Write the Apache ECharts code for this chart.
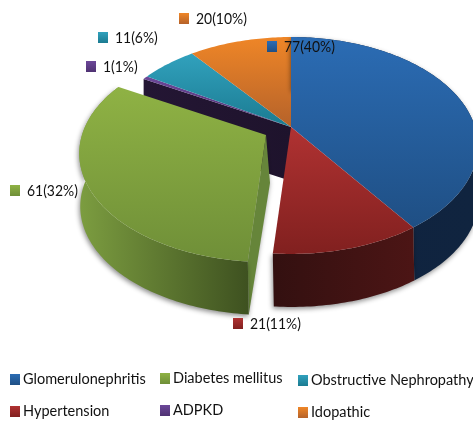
<!DOCTYPE html>
<html>
<head>
<meta charset="utf-8">
<title>Causes of kidney disease</title>
<script src="https://cdn.jsdelivr.net/npm/echarts@6/dist/echarts.min.js"></script>
<style>
  html, body { margin: 0; background: #fff; }
  #chart { width: 473px; height: 421px; }
</style>
</head>
<body>
<div id="chart"></div>
<script>
// clockwise from north, same order as the picture
const names = ["Glomerulonephritis", "Hypertension", "Diabetes mellitus", "ADPKD", "Obstructive Nephropathy", "Idopathic"]
const counts = [77, 21, 61, 1, 11, 20]
const topColors = [
  ["#2b6cb4", "#1f4f84"],
  ["#b03232", "#81201f"],
  ["#8fb244", "#6f8f38"],
  ["#6c4799", "#4f3272"],
  ["#31a1bd", "#1b7b91"],
  ["#ef8627", "#b5622a"],
]
const wallColors = [
  ["#0f2340", "#10243f"],
  ["#331010", "#4c1515"],
  ["#7c9d40", "#3e5120"],
  ["#241634", "#1e132c"],
  ["#0f4a5a", "#0f4a5a"],
  ["#7a4214", "#7a4214"],
]
const labelSpots = [[267, 41], [233, 318], [10, 185], [86, 61], [98, 32], [179, 13]]
const legendSpots = [[10, 372], [10, 404], [160, 371], [160, 403], [298, 373], [298, 405]]

// perspective of the pie, fitted to the picture
const hub = [291, 127]
const spreadX = 184
const spreadY = 105.3
const tilt = 0.1705
const depth = 53
const explodedIndex = 2
const explode = [-25, 8]

const total = counts.reduce((a, b) => a + b, 0)

const project = (deg, offset) => {
  const t = (deg * Math.PI) / 180
  const u = Math.sin(t)
  const v = -Math.cos(t)
  const d = 1 - tilt * v
  return [hub[0] + offset[0] + (spreadX * u) / d, hub[1] + offset[1] + (spreadY * v) / d]
}

let running = 0
const slices = counts.map((c, i) => {
  const start = running
  running += (c / total) * 360
  return { start, end: running, offset: i === explodedIndex ? explode : [0, 0] }
})

const rim = (s) => {
  const pts = []
  for (let a = s.start; a < s.end; a += 1) pts.push(project(a, s.offset))
  pts.push(project(s.end, s.offset))
  return pts
}

const down = (p) => [p[0] + 1, p[1] + depth]
const vertical = (c) => ({
  type: "linear", x: 0, y: 0, x2: 0, y2: 1,
  colorStops: [{ offset: 0, color: c[0] }, { offset: 1, color: c[1] }],
})
const horizontal = (c) => ({
  type: "linear", x: 0, y: 0, x2: 1, y2: 0,
  colorStops: [{ offset: 0, color: c[0] }, { offset: 1, color: c[1] }],
})
const wallShadow = { shadowBlur: 5, shadowColor: "rgba(0,0,0,0.45)", shadowOffsetX: -1, shadowOffsetY: 2 }

const renderSlice = (i) => () => {
  const s = slices[i]
  const edge = rim(s)
  const h = [hub[0] + s.offset[0], hub[1] + s.offset[1]]
  const children = []

  // cut face of the pulled out slice, only the side towards the viewer shows
  if (i === explodedIndex) {
    const near = edge[0]
    children.push({
      type: "polygon",
      shape: { points: [h, near, down(near), [h[0] + 4, h[1] + depth - 5]] },
      style: { fill: "#66853a", ...wallShadow },
    })
  }
  // outer wall, the top face hides whatever sits behind it
  if (s.end > 90 && s.start < 270) {
    children.push({
      type: "polygon",
      shape: { points: edge.concat(edge.map(down).reverse()) },
      style: { fill: horizontal(wallColors[i]), ...wallShadow },
    })
  }
  // dark wall left bare behind the gap
  if (names[i] === "ADPKD") {
    const from = edge[0]
    children.push({
      type: "polygon",
      shape: { points: [from, hub, [hub[0], hub[1] + depth + 1], [from[0], from[1] + depth + 1]] },
      style: { fill: horizontal(wallColors[i]) },
    })
  }
  children.push({
    type: "polygon",
    shape: { points: [h].concat(edge) },
    style: { fill: vertical(topColors[i]) },
  })
  return { type: "group", children }
}

const drawOrder = [3, 4, 5, 0, 1, 2]
const series = names.map((name, i) => ({
  type: "custom",
  name,
  coordinateSystem: "none",
  silent: true,
  z: 2 + drawOrder.indexOf(i),
  itemStyle: { color: vertical(topColors[i]) },
  data: [[counts[i]]],
  renderItem: renderSlice(i),
}))

const labels = counts.flatMap((c, i) => {
  const [x, y] = labelSpots[i]
  return [
    { type: "rect", z: 50, shape: { x, y, width: 10, height: 11 }, style: { fill: vertical(topColors[i]) } },
    {
      type: "text", z: 50, x: x + 17, y: y + 6, scaleX: 0.87,
      style: { text: `${c}(${Math.round((c / total) * 100)}%)`, font: "16px Lato", fill: "#111", textVerticalAlign: "middle" },
    },
  ]
})

// one legend per entry, the columns in the picture do not line up with any regular grid
const legends = names.map((name, i) => ({
  left: legendSpots[i][0],
  top: legendSpots[i][1],
  padding: 0,
  icon: "rect",
  itemWidth: 10,
  itemHeight: 11,
  selectedMode: false,
  textStyle: { fontFamily: "Lato", fontSize: 14.5, color: "#111", padding: [0, 0, 0, -2] },
  data: [name],
}))

const chart = echarts.init(document.getElementById("chart"))
chart.setOption({
  animation: false,
  backgroundColor: "#fff",
  legend: legends,
  graphic: labels,
  series,
})
</script>
</body>
</html>
